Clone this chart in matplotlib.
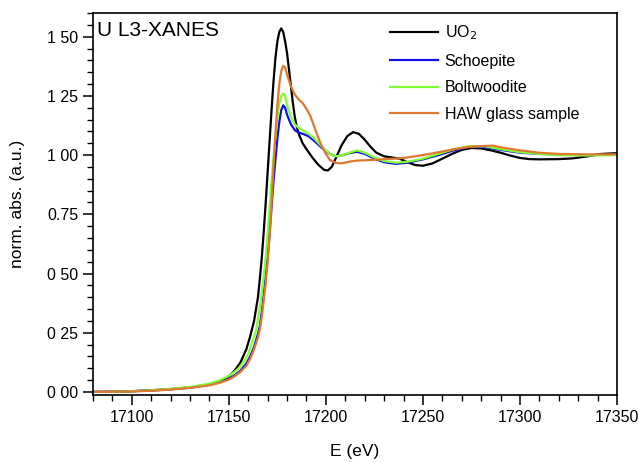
import matplotlib

matplotlib.use("Agg")
import matplotlib.pyplot as plt  # noqa: E402
from matplotlib.ticker import MultipleLocator  # noqa: E402

plt.rcParams["font.family"] = ["Liberation Sans", "DejaVu Sans"]

# energies (eV) and normalized absorption
e_uo2 = [17080, 17090, 17100, 17110, 17120, 17130, 17140, 17145, 17150, 17153,
         17156, 17159, 17161, 17163, 17165, 17166, 17167, 17168, 17169, 17170,
         17171, 17172, 17173, 17174, 17175, 17176, 17177, 17178, 17179, 17180,
         17181, 17182, 17183, 17184, 17185, 17186, 17188, 17190, 17193, 17196,
         17199, 17201, 17203, 17205, 17208, 17211, 17214, 17217, 17220, 17223,
         17226, 17230, 17234, 17238, 17242, 17246, 17250, 17255, 17260, 17265,
         17270, 17275, 17280, 17285, 17290, 17295, 17300, 17305, 17310, 17320,
         17327, 17335, 17342, 17350]
uo2 = [0.000, 0.001, 0.003, 0.007, 0.012, 0.019, 0.032, 0.045, 0.065, 0.09,
       0.125, 0.18, 0.235, 0.30, 0.40, 0.48, 0.57, 0.68, 0.80, 0.93,
       1.06, 1.19, 1.31, 1.41, 1.48, 1.52, 1.535, 1.52, 1.48, 1.43,
       1.36, 1.29, 1.22, 1.16, 1.12, 1.09, 1.05, 1.025, 0.99, 0.96,
       0.938, 0.935, 0.95, 0.985, 1.04, 1.08, 1.097, 1.09, 1.065, 1.035,
       1.01, 0.995, 0.99, 0.985, 0.97, 0.958, 0.955, 0.965, 0.985, 1.005,
       1.022, 1.03, 1.028, 1.02, 1.01, 0.998, 0.988, 0.983, 0.982, 0.983,
       0.986, 0.995, 1.005, 1.008]

e_schoep = [17080, 17090, 17100, 17110, 17120, 17130, 17140, 17145, 17150, 17153,
            17156, 17159, 17161, 17163, 17165, 17166, 17167, 17168, 17169, 17170,
            17171, 17172, 17173, 17174, 17175, 17176, 17177, 17178, 17179, 17180,
            17182, 17184, 17186, 17188, 17191, 17194, 17198, 17202, 17205, 17208,
            17212, 17216, 17220, 17225, 17230, 17236, 17242, 17250, 17258, 17266,
            17274, 17282, 17290, 17300, 17310, 17320, 17335, 17350]
schoep = [0.000, 0.001, 0.003, 0.006, 0.011, 0.018, 0.030, 0.040, 0.055, 0.07,
          0.09, 0.12, 0.15, 0.19, 0.245, 0.28, 0.34, 0.41, 0.49, 0.57,
          0.67, 0.78, 0.89, 0.98, 1.07, 1.14, 1.19, 1.21, 1.20, 1.17,
          1.13, 1.105, 1.095, 1.09, 1.08, 1.06, 1.03, 1.005, 0.995, 0.998,
          1.008, 1.014, 1.005, 0.985, 0.97, 0.963, 0.968, 0.982, 1.0, 1.02,
          1.035, 1.033, 1.022, 1.01, 1.005, 1.002, 1.0, 1.002]

e_boltw = [17080, 17090, 17100, 17110, 17120, 17130, 17140, 17145, 17150, 17153,
           17155, 17157, 17160, 17162, 17164, 17166, 17168, 17169, 17170, 17171,
           17172, 17173, 17174, 17175, 17176, 17177, 17178, 17179, 17180, 17182,
           17184, 17186, 17188, 17191, 17194, 17198, 17202, 17205, 17208, 17212,
           17216, 17220, 17225, 17230, 17236, 17242, 17250, 17258, 17266, 17274,
           17282, 17290, 17300, 17310, 17320, 17335, 17350]
boltw = [0.000, 0.001, 0.003, 0.007, 0.013, 0.021, 0.035, 0.048, 0.068, 0.085,
         0.10, 0.12, 0.16, 0.21, 0.26, 0.36, 0.49, 0.57, 0.67, 0.78,
         0.89, 0.99, 1.08, 1.16, 1.22, 1.25, 1.26, 1.25, 1.21, 1.16,
         1.13, 1.115, 1.105, 1.09, 1.07, 1.035, 1.005, 0.995, 0.998, 1.01,
         1.02, 1.01, 0.99, 0.975, 0.968, 0.972, 0.985, 1.005, 1.025, 1.038,
         1.037, 1.025, 1.012, 1.005, 1.0, 0.998, 1.0]

e_haw = [17080, 17090, 17100, 17110, 17120, 17130, 17140, 17145, 17150, 17153,
         17156, 17159, 17161, 17163, 17165, 17166, 17167, 17168, 17169, 17170,
         17171, 17172, 17173, 17174, 17175, 17176, 17177, 17178, 17179, 17180,
         17182, 17184, 17186, 17188, 17190, 17192, 17194, 17196, 17198, 17200,
         17202, 17205, 17208, 17212, 17216, 17220, 17225, 17230, 17236, 17242,
         17250, 17258, 17266, 17274, 17280, 17286, 17292, 17300, 17310, 17320,
         17335, 17350]
haw = [0.000, 0.001, 0.002, 0.005, 0.010, 0.017, 0.028, 0.038, 0.052, 0.066,
       0.085, 0.11, 0.14, 0.18, 0.23, 0.265, 0.32, 0.39, 0.46, 0.55,
       0.66, 0.80, 0.95, 1.09, 1.21, 1.30, 1.355, 1.377, 1.37, 1.34,
       1.29, 1.255, 1.235, 1.22, 1.195, 1.165, 1.12, 1.075, 1.035, 1.005,
       0.98, 0.967, 0.965, 0.972, 0.977, 0.978, 0.98, 0.983, 0.985, 0.99,
       1.0, 1.012, 1.025, 1.035, 1.038, 1.04, 1.03, 1.02, 1.01, 1.005,
       1.003, 1.003]

yticks = [0.0, 0.25, 0.5, 0.75, 1.0, 1.25, 1.5]
ytick_labels = ["0 00", "0 25", "0 50", "0.75", "1 00", "1 25", "1 50"]
xticks = [17100, 17150, 17200, 17250, 17300, 17350]

fig = plt.figure(figsize=(6.39, 4.62), dpi=100)
ax = fig.add_axes([93 / 639, 1 - 395 / 462, 524 / 639, 382 / 462])

ax.plot(e_uo2, uo2, color="black", lw=1.6, label="UO$_2$")
ax.plot(e_schoep, schoep, color="#1010e0", lw=1.6, label="Schoepite")
ax.plot(e_boltw, boltw, color="#80ff30", lw=1.6, label="Boltwoodite")
ax.plot(e_haw, haw, color="#e07830", lw=1.6, label="HAW glass sample")

ax.set_xlim(17080, 17350)
ax.set_ylim(-0.013, 1.6)
ax.set_xticks(xticks)
ax.set_yticks(yticks)
ax.set_yticklabels(ytick_labels)
ax.xaxis.set_minor_locator(MultipleLocator(10))
ax.yaxis.set_minor_locator(MultipleLocator(0.05))
ax.tick_params(which="major", direction="out", length=7, width=1.1,
               labelsize=11.5, top=False, right=False)
ax.tick_params(which="minor", direction="out", length=4, width=1.0,
               top=False, right=False)
for sp in ax.spines.values():
    sp.set_linewidth(1.2)

ax.set_xlabel("E (eV)", fontsize=12.5, labelpad=14)
ax.set_ylabel("norm. abs. (a.u.)", fontsize=12.5, labelpad=16)
ax.text(0.008, 0.98, "U L3-XANES", transform=ax.transAxes,
        fontsize=15, va="top", ha="left")

leg = ax.legend(loc="upper right", frameon=False, fontsize=11.5,
                handlelength=3.0, handletextpad=0.4, labelspacing=0.72,
                bbox_to_anchor=(0.955, 1.01))

fig.savefig("out.png", dpi=100)
plt.close(fig)
